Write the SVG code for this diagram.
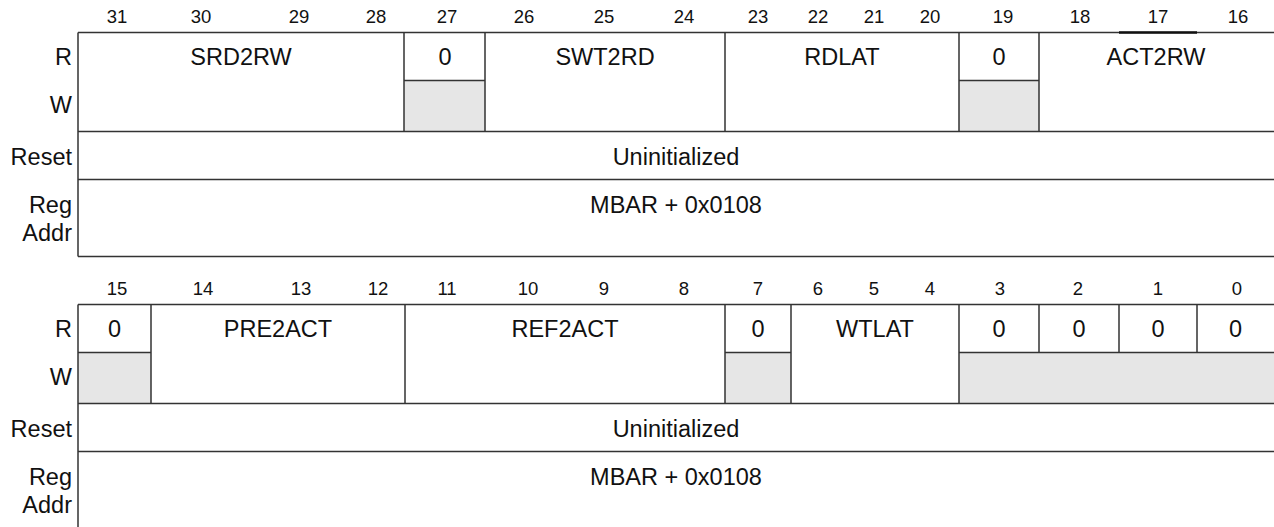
<svg xmlns="http://www.w3.org/2000/svg" width="1274" height="527" viewBox="0 0 1274 527">
<style>
text{font-family:"Liberation Sans",Arial,sans-serif;fill:#111}
.b{font-size:18.5px;text-anchor:middle}
.f{font-size:23.5px;text-anchor:middle}
.l{font-size:23.5px;text-anchor:end}
.ln{stroke:#333;stroke-width:1.5;fill:none}
.g{fill:#e6e6e6;stroke:none}
</style>
<rect width="1274" height="527" fill="#fff"/>
<g id="bits-top">
<text class="b" x="117" y="23">31</text><text class="b" x="201" y="23">30</text><text class="b" x="299" y="23">29</text><text class="b" x="376" y="23">28</text>
<text class="b" x="447" y="23">27</text><text class="b" x="524" y="23">26</text><text class="b" x="604" y="23">25</text><text class="b" x="684" y="23">24</text>
<text class="b" x="758" y="23">23</text><text class="b" x="818" y="23">22</text><text class="b" x="874" y="23">21</text><text class="b" x="930" y="23">20</text>
<text class="b" x="1003" y="23">19</text><text class="b" x="1080" y="23">18</text><text class="b" x="1158" y="23">17</text><text class="b" x="1238" y="23">16</text>
</g>
<g id="labels-top">
<text class="l" x="72" y="65">R</text><text class="l" x="72" y="113">W</text><text class="l" x="72" y="165">Reset</text>
<text class="l" x="72" y="213">Reg</text><text class="l" x="72" y="241">Addr</text>
</g>
<g id="cells-top">
<rect class="g" x="404" y="80.5" width="81" height="51"/>
<rect class="g" x="959" y="80.5" width="80" height="51"/>
<path class="ln" d="M78 32.5H1274M78 131.5H1274M78 179.5H1274M78 256.5H1274M78 32.5V256.5M404 32.5V131.5M485 32.5V131.5M725 32.5V131.5M959 32.5V131.5M1039 32.5V131.5M404 80.5H485M959 80.5H1039"/>
<line x1="1119" y1="32.5" x2="1197" y2="32.5" stroke="#111" stroke-width="2.5"/>
</g>
<g id="SRD2RW"><text class="f" x="241" y="65">SRD2RW</text></g>
<g id="bit27"><text class="f" x="445" y="65">0</text></g>
<g id="SWT2RD"><text class="f" x="605" y="65">SWT2RD</text></g>
<g id="RDLAT"><text class="f" x="842" y="65">RDLAT</text></g>
<g id="bit19"><text class="f" x="999" y="65">0</text></g>
<g id="ACT2RW"><text class="f" x="1156" y="65">ACT2RW</text></g>
<g id="reset-top"><text class="f" x="676" y="165">Uninitialized</text></g>
<g id="addr-top"><text class="f" x="676" y="213">MBAR + 0x0108</text></g>

<g id="bits-bottom">
<text class="b" x="117" y="295">15</text><text class="b" x="203" y="295">14</text><text class="b" x="301" y="295">13</text><text class="b" x="378" y="295">12</text>
<text class="b" x="447" y="295">11</text><text class="b" x="528" y="295">10</text><text class="b" x="604" y="295">9</text><text class="b" x="684" y="295">8</text>
<text class="b" x="758" y="295">7</text><text class="b" x="818" y="295">6</text><text class="b" x="874" y="295">5</text><text class="b" x="930" y="295">4</text>
<text class="b" x="1000" y="295">3</text><text class="b" x="1078" y="295">2</text><text class="b" x="1158" y="295">1</text><text class="b" x="1237" y="295">0</text>
</g>
<g id="labels-bottom">
<text class="l" x="72" y="337">R</text><text class="l" x="72" y="385">W</text><text class="l" x="72" y="437">Reset</text>
<text class="l" x="72" y="485">Reg</text><text class="l" x="72" y="513">Addr</text>
</g>
<g id="cells-bottom">
<rect class="g" x="78" y="352.5" width="73" height="51"/>
<rect class="g" x="725" y="352.5" width="66" height="51"/>
<rect class="g" x="959" y="352.5" width="315" height="51"/>
<path class="ln" d="M78 304.5H1274M78 403.5H1274M78 451.5H1274M78 304.5V527M151 304.5V403.5M405 304.5V403.5M725 304.5V403.5M791 304.5V403.5M959 304.5V403.5M1039 304.5V352.5M1119 304.5V352.5M1197 304.5V352.5M78 352.5H151M725 352.5H791M959 352.5H1274"/>
</g>
<g id="bit15"><text class="f" x="114.5" y="337">0</text></g>
<g id="PRE2ACT"><text class="f" x="278" y="337">PRE2ACT</text></g>
<g id="REF2ACT"><text class="f" x="565" y="337">REF2ACT</text></g>
<g id="bit7"><text class="f" x="758" y="337">0</text></g>
<g id="WTLAT"><text class="f" x="875" y="337">WTLAT</text></g>
<g id="bit3"><text class="f" x="999" y="337">0</text></g>
<g id="bit2"><text class="f" x="1079" y="337">0</text></g>
<g id="bit1"><text class="f" x="1158" y="337">0</text></g>
<g id="bit0"><text class="f" x="1235.5" y="337">0</text></g>
<g id="reset-bottom"><text class="f" x="676" y="437">Uninitialized</text></g>
<g id="addr-bottom"><text class="f" x="676" y="485">MBAR + 0x0108</text></g>
</svg>
